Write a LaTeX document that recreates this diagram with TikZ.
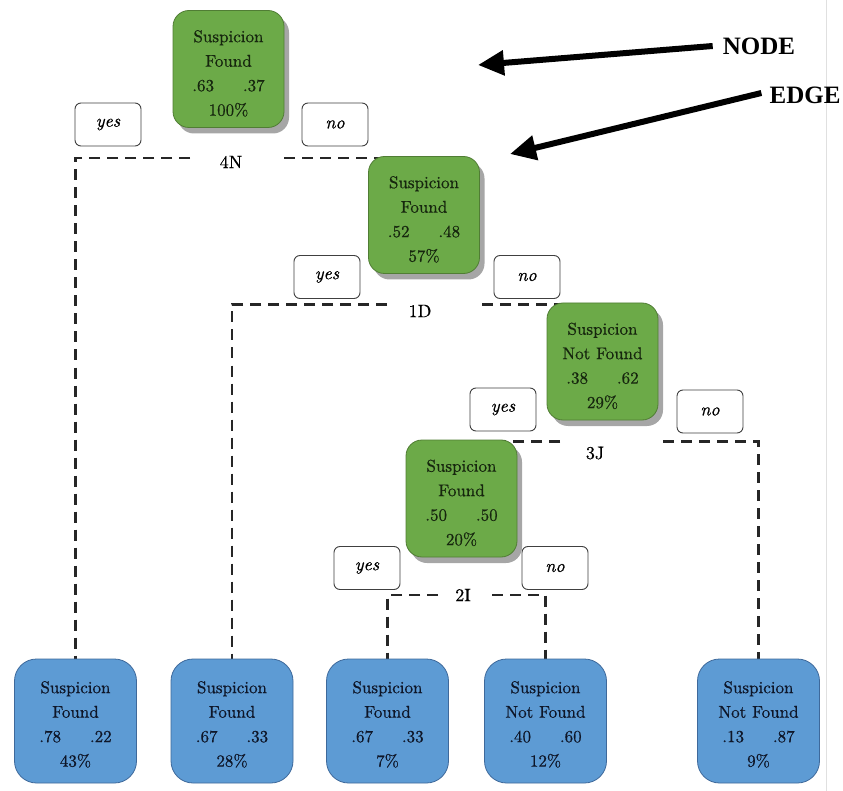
\documentclass[tikz,border=0pt]{standalone}
\usepackage{fontspec}
\newfontfamily\arrowfont{Liberation Serif}
\newfontfamily\boxfont{lmroman10-regular}[Extension=.otf, ItalicFont=lmroman10-italic, FakeBold=0.6]
\usetikzlibrary{shadows,arrows.meta}
\definecolor{gfill}{RGB}{108,170,72}
\definecolor{gborder}{RGB}{80,125,52}
\definecolor{gtext}{RGB}{22,38,14}
\definecolor{bfill}{RGB}{93,155,212}
\definecolor{bborder}{RGB}{62,105,155}
\definecolor{btext}{RGB}{14,22,40}
\pgfdeclarelayer{bg}
\pgfdeclarelayer{paper}
\pgfsetlayers{paper,bg,main}
\newcommand\boxbody[5]{\raisebox{-#5}[\height][\depth]{\begin{tabular}{@{}c@{}}#1\\#2\\#3\\#4\end{tabular}}}
\tikzset{
  base/.style={font=\boxfont\fontsize{17}{24.5}\selectfont, inner sep=0pt},
  gnode/.style={base, rectangle, rounded corners=16pt, draw=gborder, line width=0.8pt,
    fill=gfill, text=gtext, minimum width=111pt, minimum height=117pt,
    drop shadow={shadow xshift=5pt, shadow yshift=-6pt, fill=black, opacity=0.35}},
  bnode/.style={base, rectangle, rounded corners=22pt, draw=bborder, line width=0.8pt,
    fill=bfill, text=btext, minimum width=122pt, minimum height=124pt},
  lab/.style={font=\boxfont\fontsize{18}{20}\selectfont\itshape, draw=black!75, line width=0.9pt,
    rounded corners=6pt, fill=white, minimum width=66pt, minimum height=43pt, inner sep=0pt},
  splitlab/.style={font=\boxfont\fontsize{18}{20}\selectfont, inner sep=0pt},
  edge/.style={dash pattern=on 11pt off 7pt, line width=2.4pt, black!85},
  arrowtxt/.style={font=\arrowfont\bfseries\fontsize{25}{28}\selectfont, inner sep=0pt},
  bigarrow/.style={line width=6pt, -{Triangle[length=26pt,width=24pt]}}
}
\begin{document}
\begin{tikzpicture}[x=1pt,y=-1pt]
\useasboundingbox (0,0) rectangle (843,791);
\begin{pgfonlayer}{paper}
\fill[white] (0,0) rectangle (843,791);
\draw[black!12, line width=1pt] (826,0) -- (826,791);
\end{pgfonlayer}

% decision nodes
\node[gnode] (g1) at (228.5,69) {\boxbody{Suspicion}{Found}{.63\hspace{1.7em}.37}{100\%}{5pt}};
\node[gnode] (g2) at (424,215) {\boxbody{Suspicion}{Found}{.52\hspace{1.7em}.48}{57\%}{5pt}};
\node[gnode] (g3) at (602.5,361.5) {\boxbody{Suspicion}{Not Found}{.38\hspace{1.7em}.62}{29\%}{5pt}};
\node[gnode] (g4) at (461.5,498.5) {\boxbody{Suspicion}{Found}{.50\hspace{1.7em}.50}{20\%}{5pt}};

% leaves
\node[bnode] (b1) at (75.5,721) {\boxbody{Suspicion}{Found}{.78\hspace{1.7em}.22}{43\%}{4pt}};
\node[bnode] (b2) at (232,721) {\boxbody{Suspicion}{Found}{.67\hspace{1.7em}.33}{28\%}{4pt}};
\node[bnode] (b3) at (387.5,721) {\boxbody{Suspicion}{Found}{.67\hspace{1.7em}.33}{7\%}{4pt}};
\node[bnode] (b4) at (545.5,721) {\boxbody{Suspicion}{Not Found}{.40\hspace{1.7em}.60}{12\%}{4pt}};
\node[bnode] (b5) at (758.5,721) {\boxbody{Suspicion}{Not Found}{.13\hspace{1.7em}.87}{9\%}{4pt}};

% yes/no labels
\node[lab] (y1) at (108,124.5) {yes};
\node[lab] (n1) at (335,124.5) {no};
\node[lab] (y2) at (327,277) {yes};
\node[lab] (n2) at (527,277) {no};
\node[lab] (y3) at (503,409.5) {yes};
\node[lab] (n3) at (710,411.5) {no};
\node[lab] (y4) at (367,568) {yes};
\node[lab] (n4) at (555,568) {no};

% split labels
\node[splitlab] (t1) at (231,162) {4N};
\node[splitlab] (t2) at (420,311) {1D};
\node[splitlab] (t3) at (595,453) {3J};
\node[splitlab] (t4) at (463,595) {2I};

% segment ends
\coordinate (s1l) at (190,158);
\coordinate (s1r) at (284,158);
\coordinate (s2l) at (387,304.5);
\coordinate (s2r) at (482,304.5);
\coordinate (s3l) at (560,441.5);
\coordinate (s3r) at (663,441.5);
\coordinate (s4l) at (438,595);
\coordinate (s4r) at (492,595);

\begin{pgfonlayer}{bg}
\draw[edge] (s1l) -| (b1.north);
\draw[edge] (s1r) -| (g2.center);
\draw[edge] (s2l) -| (b2.north);
\draw[edge] (s2r) -| (g3.center);
\draw[edge] (s3l) -| (g4.center);
\draw[edge] (s3r) -| (b5.north);
\draw[edge] (s4l) -| (b3.north);
\draw[edge] (s4r) -| (b4.north);
\end{pgfonlayer}

% annotation arrows
\node[arrowtxt] (tN) at (759,46) {NODE};
\node[arrowtxt] (tE) at (805,95) {EDGE};
\coordinate (hN) at (478,65);
\coordinate (hE) at (510,154);
\draw[bigarrow] ([xshift=-10pt]tN.west) -- (hN);
\draw[bigarrow] ([xshift=-8pt,yshift=2pt]tE.west) -- (hE);
\end{tikzpicture}
\end{document}
